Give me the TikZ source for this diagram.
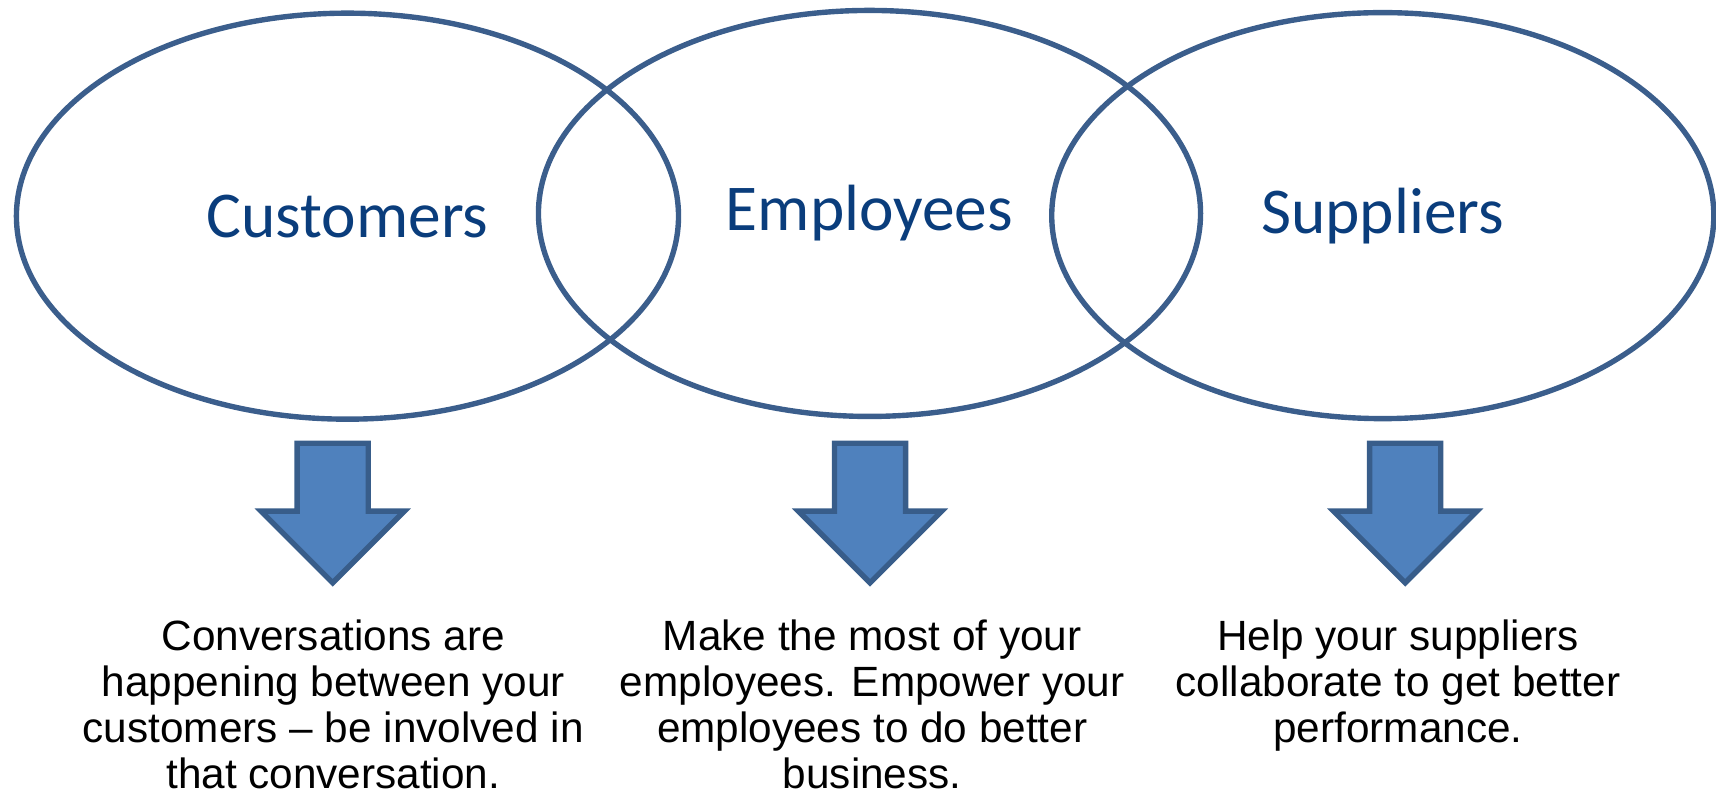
\documentclass[tikz,border=0pt]{standalone}
\usepackage{fontspec}
\setmainfont{Liberation Sans}
\newfontfamily\labelfont{Carlito}
\usetikzlibrary{shapes.geometric}
\definecolor{ringblue}{HTML}{3B5E8C}
\definecolor{labelblue}{HTML}{0A3D7C}
\definecolor{arrfill}{HTML}{4F81BD}
\definecolor{arredge}{HTML}{385D8A}
\tikzset{
  ring/.style={ellipse, draw=ringblue, line width=1.4pt, inner sep=0pt,
    minimum width=6.05cm, minimum height=3.71cm,
    font=\labelfont\fontsize{17}{20}\selectfont, text=labelblue},
  bodytext/.style={anchor=north, align=center, inner sep=0pt,
    font=\fontsize{11}{12}\selectfont, text=black},
  arrowshape/.style={fill=arrfill, draw=arredge, line width=1.4pt, line join=miter},
  downarr/.pic={\draw[arrowshape] (-0.325,0) -- (0.325,0) -- (0.325,-0.62) -- (0.655,-0.62)
      -- (0,-1.275) -- (-0.655,-0.62) -- (-0.325,-0.62) -- cycle;}
}
\begin{document}
\begin{tikzpicture}
\useasboundingbox (0,0) rectangle (15.68,-7.26);
\node[ring] (cust) at (3.175,-1.975) {Customers};
\node[ring] (empl) at (7.945,-1.95) {Employees};
\node[ring] (supp) at (12.635,-1.97) {Suppliers};
\pic (a1) at (3.04,-4.05) {downarr};
\pic (a2) at (7.95,-4.05) {downarr};
\pic (a3) at (12.84,-4.05) {downarr};
\node[bodytext] (t1) at (3.045,-5.653) {Conversations are\\happening between your\\customers – be involved in\\that conversation.};
\node[bodytext] (t2) at (7.97,-5.653) {Make the most of your\\employees. Empower your\\employees to do better\\business.};
\node[bodytext] (t3) at (12.775,-5.653) {Help your suppliers\\collaborate to get better\\performance.};
\end{tikzpicture}
\end{document}
